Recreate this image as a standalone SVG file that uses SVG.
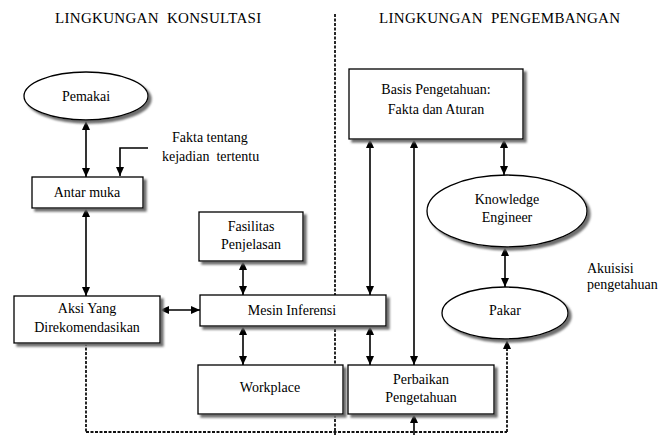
<svg xmlns="http://www.w3.org/2000/svg" width="658" height="435" viewBox="0 0 658 435" font-family="'Liberation Serif', 'DejaVu Serif', serif">
  <defs>
    <filter id="shadow" x="-10%" y="-10%" width="130%" height="140%">
      <feDropShadow dx="3" dy="3" stdDeviation="0.9" flood-color="#6e6e6e" flood-opacity="1"/>
    </filter>
    <marker id="head" markerUnits="userSpaceOnUse" markerWidth="9" markerHeight="8" refX="9" refY="4" orient="auto-start-reverse">
      <path d="M0,0 L9,4 L0,8 z" fill="#000"/>
    </marker>
  </defs>
  <style>
    text { font-family: "Liberation Serif", "DejaVu Serif", serif; font-size: 14px; fill: #000; }
    .title { font-size: 15px; letter-spacing: 0.3px; }
    .c { text-anchor: middle; }
    .node rect, .node ellipse { fill: #fff; stroke: #000; stroke-width: 1.3; filter: url(#shadow); }
    .link { fill: none; stroke: #000; stroke-width: 1.6; }
    .both { marker-start: url(#head); marker-end: url(#head); }
    .one { marker-end: url(#head); }
    .dash { fill: none; stroke: #111; stroke-width: 1.8; stroke-dasharray: 3 1.5; }
  </style>

  <rect width="658" height="435" fill="#fff"/>

  <!-- section titles -->
  <text class="title" x="55" y="23" xml:space="preserve">LINGKUNGAN  KONSULTASI</text>
  <text class="title" x="379" y="23" xml:space="preserve">LINGKUNGAN  PENGEMBANGAN</text>

  <!-- divider between the two environments -->
  <line class="dash" x1="335" y1="14" x2="335" y2="435"/>

  <!-- connectors -->
  <g id="connectors">
    <line class="link both" x1="86" y1="121" x2="86" y2="177"/>
    <polyline class="link one" points="148,148 120,148 120,176"/>
    <line class="link both" x1="86" y1="208" x2="86" y2="296"/>
    <line class="link both" x1="160" y1="310" x2="200" y2="310"/>
    <line class="link both" x1="243" y1="261" x2="243" y2="295"/>
    <line class="link both" x1="243" y1="326" x2="243" y2="365"/>
    <line class="link both" x1="370" y1="139" x2="370" y2="295"/>
    <line class="link both" x1="370" y1="326" x2="370" y2="365"/>
    <line class="link both" x1="414" y1="139" x2="414" y2="365"/>
    <line class="link one" x1="414" y1="435" x2="414" y2="414"/>
    <line class="link both" x1="504" y1="139" x2="504" y2="175"/>
    <line class="link both" x1="505" y1="247" x2="505" y2="287"/>
    <line class="dash" x1="86" y1="343" x2="86" y2="432"/>
    <line class="dash" x1="86" y1="432" x2="507" y2="432"/>
    <line class="dash" x1="507" y1="432" x2="507" y2="340" marker-end="url(#head)"/>
  </g>

  <!-- consultation side -->
  <g id="pemakai" class="node">
    <ellipse cx="86" cy="96" rx="62" ry="24"/>
    <text class="c" x="86" y="101">Pemakai</text>
  </g>
  <g id="fakta-label">
    <text x="172" y="142">Fakta tentang</text>
    <text x="162" y="161" xml:space="preserve">kejadian  tertentu</text>
  </g>
  <g id="antarmuka" class="node">
    <rect x="32" y="177" width="111" height="31"/>
    <text class="c" x="87" y="197">Antar muka</text>
  </g>
  <g id="fasilitas" class="node">
    <rect x="199" y="212" width="104" height="49"/>
    <text class="c" x="251" y="231">Fasilitas</text>
    <text class="c" x="251" y="249">Penjelasan</text>
  </g>
  <g id="aksi" class="node">
    <rect x="14" y="296" width="146" height="47"/>
    <text class="c" x="87" y="313">Aksi Yang</text>
    <text class="c" x="87" y="332">Direkomendasikan</text>
  </g>
  <g id="mesin" class="node">
    <rect x="200" y="295" width="186" height="31"/>
    <text class="c" x="292" y="315">Mesin Inferensi</text>
  </g>
  <g id="workplace" class="node">
    <rect x="198" y="365" width="145" height="49"/>
    <text class="c" x="270" y="392">Workplace</text>
  </g>

  <!-- development side -->
  <g id="basis" class="node">
    <rect x="349" y="69" width="174" height="70"/>
    <text class="c" x="436" y="94">Basis Pengetahuan:</text>
    <text class="c" x="436" y="114">Fakta dan Aturan</text>
  </g>
  <g id="engineer" class="node">
    <ellipse cx="507" cy="211" rx="80" ry="36"/>
    <text class="c" x="507" y="204">Knowledge</text>
    <text class="c" x="507" y="222">Engineer</text>
  </g>
  <g id="akuisisi-label">
    <text x="587" y="273">Akuisisi</text>
    <text x="587" y="289">pengetahuan</text>
  </g>
  <g id="pakar" class="node">
    <ellipse cx="505" cy="313" rx="63" ry="26"/>
    <text class="c" x="505" y="315">Pakar</text>
  </g>
  <g id="perbaikan" class="node">
    <rect x="348" y="365" width="146" height="49"/>
    <text class="c" x="421" y="384">Perbaikan</text>
    <text class="c" x="421" y="402">Pengetahuan</text>
  </g>
</svg>
